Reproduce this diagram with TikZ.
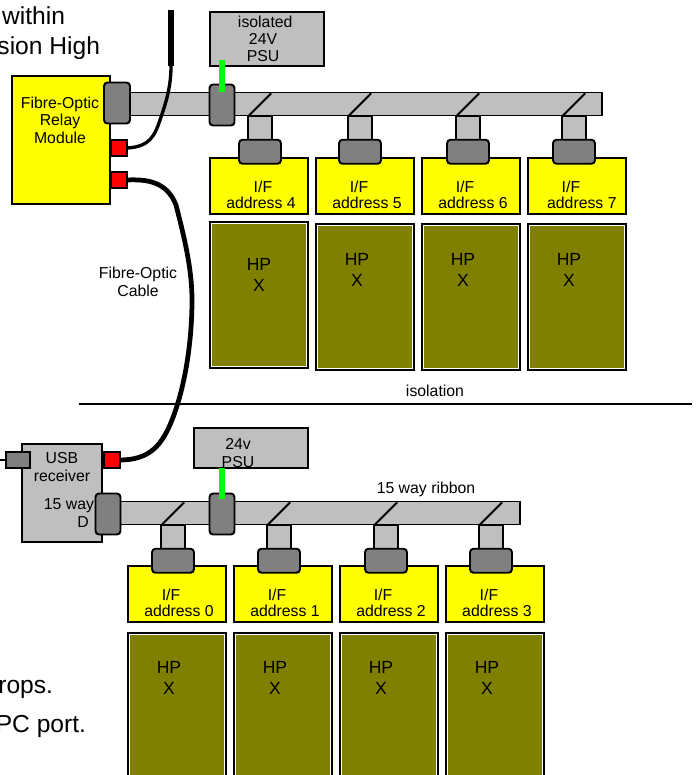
\documentclass[tikz,border=0pt]{standalone}
\usepackage{fontspec}
\setmainfont{Liberation Sans}
\usetikzlibrary{positioning}
\definecolor{hpolive}{RGB}{128,128,0}
\definecolor{ifyellow}{RGB}{255,255,0}
\definecolor{powergreen}{RGB}{0,255,0}
\definecolor{fibrered}{RGB}{255,0,0}
\newcommand{\iftext}[1]{\strut\\\hspace*{-6.8pt}I/F\\\hspace*{2.3pt}address #1}

\begin{document}
\begin{tikzpicture}[
    x=0.02cm, y=-0.02cm,
    every node/.style={outer sep=0pt},
    lbl/.style={align=center, inner sep=0pt, font=\fontsize{9}{10}\selectfont},
    hplbl/.style={lbl, font=\fontsize{10}{12.4}\selectfont},
    bodytext/.style={inner sep=0pt, font=\fontsize{14}{16}\selectfont},
    box/.style={rectangle, draw, line width=1.1pt, inner sep=0pt, align=center, font=\fontsize{9}{9}\selectfont},
    greybox/.style={box, fill=black!25},
    ifbox/.style={box, fill=ifyellow, minimum width=1.96cm, minimum height=1.12cm},
    hpbox/.style={rectangle, draw, fill=white, line width=0.85pt, minimum width=1.96cm, inner sep=0pt,
        path picture={\fill[hpolive] ([shift={(0.9pt,-0.9pt)}]path picture bounding box.north west) rectangle ([shift={(-0.9pt,0.9pt)}]path picture bounding box.south east);}},
    bus/.style={greybox, minimum height=0.46cm},
    stub/.style={greybox, minimum width=0.47cm, minimum height=0.47cm},
    plug/.style={rectangle, draw, fill=black!50, line width=1.1pt, rounded corners=2pt, inner sep=0pt, minimum width=0.84cm, minimum height=0.48cm},
    conn/.style={plug, minimum width=0.5cm, minimum height=0.82cm},
    fibre/.style={box, fill=fibrered, minimum width=0.31cm, minimum height=0.31cm},
    cable/.style={line width=2.7pt},
    power/.style={line width=3.4pt, draw=powergreen}
]
    \useasboundingbox (0,0) rectangle (699,775);
    \clip (0,0) rectangle (699,775);

    % Cut-off notes
    \node[bodytext, anchor=base east] (note1) at (65,24) {within};
    \node[bodytext, anchor=base east] (note2) at (100,54) {sion High};
    \node[bodytext, anchor=base east] (note3) at (53,693) {rops.};
    \node[bodytext, anchor=base east] (note4) at (86,732) {PC port.};

    % Isolated side
    \node[greybox, minimum width=2.28cm, minimum height=1.08cm, font=\fontsize{9}{9.6}\selectfont] (psuiso) at (267,39) {\hspace*{-2pt}isolated\\\hspace*{-4.5pt}24V\\\hspace*{-4.5pt}PSU};
    \node[box, fill=ifyellow, minimum width=1.96cm, minimum height=2.56cm] (relay) at (61,140) {};
    \node[lbl] (relaytxt) at (60,120) {Fibre-Optic\\Relay\\Module};
    \node[bus, minimum width=9.44cm] (bus4) at (366,104) {};
    \node[fibre] (fibrea) at (119,148) {};
    \node[fibre] (fibreb) at (119,180) {};

    \node[ifbox] (if4) at (259,186) {\strut\\\hspace*{4.5pt}I/F\\\hspace*{2.3pt}address 4};
    \node[ifbox, right=0.16cm of if4] (if5) {\iftext{5}};
    \node[ifbox, right=0.16cm of if5] (if6) {\iftext{6}};
    \node[ifbox, right=0.16cm of if6] (if7) {\strut\\\hspace*{-6.8pt}I/F\\\hspace*{5.6pt}address 7};

    \node[hpbox, minimum height=2.92cm] (hp4) at (259,295) {};
    \node[hpbox, minimum height=2.92cm] (hp5) at (365,297) {};
    \node[hpbox, minimum height=2.92cm] (hp6) at (471,297) {};
    \node[hpbox, minimum height=2.92cm] (hp7) at (577,297) {};
    \node[hplbl] (hp4txt) at (259,275) {HP\\X};
    \node[hplbl] (hp5txt) at (357,270) {HP\\X};
    \node[hplbl] (hp6txt) at (463,270) {HP\\X};
    \node[hplbl] (hp7txt) at (569,270) {HP\\X};

    \node[stub] (stub4) at (260,128) {};
    \node[stub] (stub5) at (360,128) {};
    \node[stub] (stub6) at (468,128) {};
    \node[stub] (stub7) at (574,128) {};
    \node[plug, below=0cm of stub4] (plug4) {};
    \node[plug, below=0cm of stub5] (plug5) {};
    \node[plug, below=0cm of stub6] (plug6) {};
    \node[plug, below=0cm of stub7] (plug7) {};
    \draw[line width=1.1pt] (stub4.north west) -- ++(23,-23);
    \draw[line width=1.1pt] (stub5.north west) -- ++(23,-23);
    \draw[line width=1.1pt] (stub6.north west) -- ++(23,-23);
    \draw[line width=1.1pt] (stub7.north west) -- ++(23,-23);

    \node[conn, minimum width=0.52cm] (connrelay) at (117,103) {};
    \node[conn, minimum width=0.5cm] (conn4) at (222,105) {};
    \draw[power] (222,60) -- ([yshift=-4pt]conn4.north);

    % Fibre runs
    \coordinate (cabletop) at (171,10);
    \coordinate (cablebend) at (171,66);
    \coordinate (cableend) at (0,460);
    \draw[cable, line width=1.9pt] (fibrea.east) .. controls (150,147) and (155,135) .. (160,120) .. controls (167,100) and (171,85) .. (cablebend);
    \draw[cable, line width=3.2pt] (cablebend) -- (cabletop);
    \node[lbl] (fibretxt) at (138,282) {Fibre-Optic\\Cable};

    % Isolation barrier
    \coordinate (barriera) at (79,404);
    \coordinate (barrierb) at (692,404);
    \draw[line width=0.85pt] (barriera) -- (barrierb);
    \node[lbl] (barriertxt) at (435,391) {isolation};

    % Receiver side
    \node[greybox, minimum width=1.6cm, minimum height=1.96cm] (usb) at (62,493) {};
    \node[lbl] (usbtxt) at (62,467) {USB\\receiver};
    \node[lbl, align=right] (waytxt) at (69,513) {15 way\\\hspace*{0pt}D\hspace*{3pt}};
    \node[fibre] (fibrec) at (112,460) {};
    \node[greybox, fill=black!50, minimum width=0.48cm, minimum height=0.32cm] (usbplug) at (18,460) {};
    \draw[line width=0.6pt] (cableend) -- (usbplug);
    \draw[cable] (fibreb.east) .. controls (148,179) and (167,182) .. (176,205)
        .. controls (185,240) and (192,270) .. (192,300)
        .. controls (192,345) and (184,390) .. (172,420)
        .. controls (162,445) and (150,460) .. (fibrec.east);

    \node[greybox, minimum width=2.28cm, minimum height=0.8cm] (psu) at (251,448) {};
    \node[lbl] (psutxt) at (238,453) {24v\\PSU};
    \node[bus, minimum width=8cm] (bus0) at (320,513) {};
    \node[lbl] (ribbontxt) at (426,489) {15 way ribbon};

    \node[ifbox] (if0) at (177,594) {\iftext{0}};
    \node[ifbox, right=0.16cm of if0] (if1) {\iftext{1}};
    \node[ifbox, right=0.16cm of if1] (if2) {\iftext{2}};
    \node[ifbox, right=0.16cm of if2] (if3) {\iftext{3}};

    \node[hpbox, minimum height=3.2cm] (hp0) at (177,713) {};
    \node[hpbox, minimum height=3.2cm] (hp1) at (283,713) {};
    \node[hpbox, minimum height=3.2cm] (hp2) at (389,713) {};
    \node[hpbox, minimum height=3.2cm] (hp3) at (495,713) {};
    \node[hplbl] (hp0txt) at (169,678) {HP\\X};
    \node[hplbl] (hp1txt) at (275,678) {HP\\X};
    \node[hplbl] (hp2txt) at (381,678) {HP\\X};
    \node[hplbl] (hp3txt) at (487,678) {HP\\X};

    \node[stub] (stub0) at (173,537) {};
    \node[stub] (stub1) at (279,537) {};
    \node[stub] (stub2) at (386,537) {};
    \node[stub] (stub3) at (491,537) {};
    \node[plug, below=0cm of stub0] (plug0) {};
    \node[plug, below=0cm of stub1] (plug1) {};
    \node[plug, below=0cm of stub2] (plug2) {};
    \node[plug, below=0cm of stub3] (plug3) {};
    \draw[line width=1.1pt] (stub0.north west) -- ++(23,-23);
    \draw[line width=1.1pt] (stub1.north west) -- ++(23,-23);
    \draw[line width=1.1pt] (stub2.north west) -- ++(23,-23);
    \draw[line width=1.1pt] (stub3.north west) -- ++(23,-23);

    \node[conn] (connusb) at (108,514) {};
    \node[conn] (conn0) at (222,514) {};
    \draw[power] (psu.south -| conn0) -- ([yshift=-3.4pt]conn0.north);
\end{tikzpicture}
\end{document}
